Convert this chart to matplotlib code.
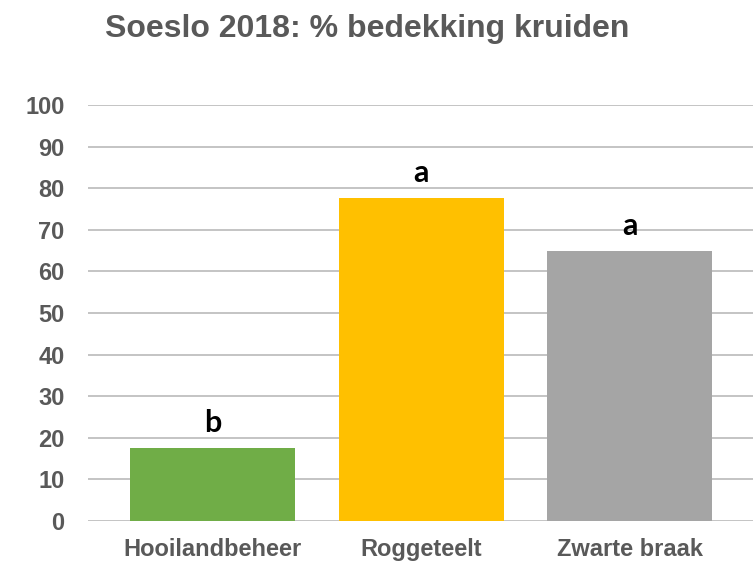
import matplotlib.pyplot as plt

categories = ['Hooilandbeheer', 'Roggeteelt', 'Zwarte braak']
coverage = [17.6, 77.6, 65.0]
letters = ['b', 'a', 'a']
colors = ['#70AD47', '#FFC000', '#A5A5A5']

grey_text = '#595959'

fig = plt.figure(figsize=(7.53, 5.61), dpi=100)
ax = fig.add_axes([0.117, 0.0713, 0.883, 0.7415])

x = range(len(categories))
bars = ax.bar(x, coverage, width=0.79, color=colors, zorder=2)

# significance letters above the bars
for xi, val, let in zip(x, coverage, letters):
    ax.annotate(let, (xi, val), xytext=(0, 8), textcoords='offset points',
                ha='center', va='bottom', fontsize=22, fontweight='bold',
                family='Lato', color='black')

ax.set_ylim(0, 100)
ax.set_xlim(-0.596, 2.59)
ax.set_yticks(range(0, 101, 10))
ax.set_xticks(list(x))
ax.set_xticklabels(categories)
ax.yaxis.grid(True, color='#BFBFBF', linewidth=1.3, zorder=0)
ax.set_axisbelow(True)
for s in ax.spines.values():
    s.set_visible(False)
ax.tick_params(length=0, labelsize=17, labelcolor=grey_text)
ax.tick_params(axis='x', pad=12)
ax.tick_params(axis='y', pad=17)
for lab in ax.get_xticklabels() + ax.get_yticklabels():
    lab.set_fontweight('bold')
    lab.set_family('Liberation Sans')

fig.text(0.488, 0.948, 'Soeslo 2018: % bedekking kruiden', ha='center', va='center',
         fontsize=23, fontweight='bold', family='Liberation Sans', color=grey_text)

plt.savefig('out.png')
